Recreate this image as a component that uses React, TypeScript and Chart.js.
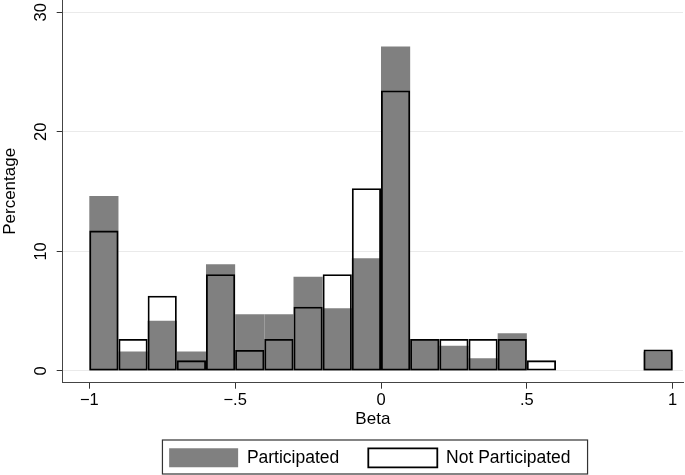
import React, { useEffect, useRef } from 'react';
import { Chart, registerables } from 'chart.js';

Chart.register(...registerables);

// Histogram bins (width 0.1) – centres of each bin on the Beta axis
const binCenters = [
  -0.95, -0.85, -0.75, -0.65, -0.55, -0.45, -0.35, -0.25, -0.15, -0.05,
  0.05, 0.15, 0.25, 0.35, 0.45, 0.55, 0.65, 0.75, 0.85, 0.95,
];

// Percentage per bin
const participated = [
  14.64, 1.62, 4.21, 1.62, 8.93, 4.74, 4.74, 7.89, 5.24, 9.43,
  27.14, 2.68, 2.12, 1.06, 3.15, null, null, null, null, 1.6,
];
const notParticipated = [
  11.74, 2.68, 6.3, 0.89, 8.09, 1.76, 2.68, 5.38, 8.09, 15.29,
  23.46, 2.68, 2.68, 2.68, 2.68, 0.89, null, null, null, 1.79,
];

const seriesNames = ['Participated', 'Not Participated'];

const xTickValues = [-1, -0.5, 0, 0.5, 1];
const xTickLabels = ['\u22121', '\u2212.5', '0', '.5', '1'];
const yTickValues = [0, 10, 20, 30];
const yTickLabels = ['0', '10', '20', '30'];

const xTitle = 'Beta';
const yTitle = 'Percentage';

const FONT = "'Liberation Sans', Arial, Helvetica, sans-serif";

export default function App() {
  const canvasRef = useRef<HTMLCanvasElement | null>(null);

  useEffect(() => {
    const canvas = canvasRef.current;
    if (!canvas) return;

    const legendBox = {
      id: 'legendBox',
      afterLayout(chart: any) {
        const lg = chart.legend;
        if (!lg || !lg.lineWidths) return;
        const p = lg.options.labels.padding;
        const lw = lg.lineWidths[0];
        const ca = chart.chartArea;
        const desiredX = (ca.left + ca.right) / 2 - 3 - (lw - p) / 2;
        const currentX = (lg.left + p + lg.right - lw) / 2;
        const dx = desiredX - currentX;
        lg.left += dx;
        lg.right += dx;
        const desiredTop = ca.bottom + 65.6 - p;
        lg.top = desiredTop;
        lg.bottom = chart.height + 20;
      },
      afterDraw(chart: any) {
        const lg = chart.legend;
        const hb = lg && lg.legendHitBoxes;
        if (!hb || !hb.length) return;
        const first = hb[0];
        const last = hb[hb.length - 1];
        const ctx = chart.ctx;
        ctx.save();
        ctx.strokeStyle = '#333333';
        ctx.lineWidth = 1.2;
        const l = first.left - 6.7;
        const r = last.left + last.width + 17;
        const t = first.top - 8.3;
        const b = first.top + first.height + 6.7;
        ctx.strokeRect(l, t, r - l, b - t);
        ctx.restore();
      },
    };

    const chart = new Chart(canvas, {
      type: 'bar',
      data: {
        datasets: [
          {
            label: seriesNames[0],
            data: binCenters.map((x, i) => ({ x, y: participated[i] })) as any,
            backgroundColor: '#808080',
            borderColor: '#808080',
            borderWidth: 0,
            inflateAmount: 0,
            grouped: false,
            barPercentage: 1,
            categoryPercentage: 1,
            order: 1,
          } as any,
          {
            label: seriesNames[1],
            data: binCenters.map((x, i) => ({ x, y: notParticipated[i] })) as any,
            backgroundColor: 'rgba(255,255,255,0)',
            borderColor: '#000000',
            borderWidth: 1.8,
            borderSkipped: false,
            inflateAmount: 0,
            grouped: false,
            barPercentage: 1,
            categoryPercentage: 1,
            order: 0,
          } as any,
        ],
      },
      options: {
        animation: false,
        responsive: false,
        devicePixelRatio: 1,
        events: [],
        layout: { padding: { top: 0, right: 2, bottom: 0, left: 0 } },
        scales: {
          x: {
            type: 'linear',
            min: -1.0912,
            max: 1.0353,
            offset: false,
            afterBuildTicks: (s: any) => {
              s.ticks = xTickValues.map((v) => ({ value: v }));
            },
            afterFit: (s: any) => {
              s.height = 47;
              s.paddingLeft = 0;
              s.paddingRight = 0;
            },
            ticks: {
              autoSkip: false,
              minRotation: 0,
              maxRotation: 0,
              padding: 1.4,
              color: '#000000',
              font: { family: FONT, size: 16.5 },
              callback: (v: any) => {
                const i = xTickValues.indexOf(Number(v));
                return i >= 0 ? xTickLabels[i] : '';
              },
            },
            grid: {
              offset: false,
              drawOnChartArea: false,
              drawTicks: true,
              tickLength: 6,
              tickColor: '#333333',
              tickWidth: 1,
            },
            border: { display: true, color: '#444444', width: 1 },
            title: {
              display: true,
              text: xTitle,
              color: '#000000',
              font: { family: FONT, size: 17 },
              padding: 0,
            },
          } as any,
          y: {
            type: 'linear',
            min: -0.98,
            max: 31.03,
            afterBuildTicks: (s: any) => {
              s.ticks = yTickValues.map((v) => ({ value: v }));
            },
            afterFit: (s: any) => {
              s.width = 62.7;
              s.paddingTop = 0;
              s.paddingBottom = 0;
            },
            ticks: {
              autoSkip: false,
              minRotation: 90,
              maxRotation: 90,
              crossAlign: 'center',
              padding: 6.5,
              color: '#000000',
              font: { family: FONT, size: 16.5 },
              callback: (v: any) => {
                const i = yTickValues.indexOf(Number(v));
                return i >= 0 ? yTickLabels[i] : '';
              },
            },
            grid: {
              color: '#eaeaea',
              lineWidth: 1,
              drawTicks: true,
              tickLength: 6,
              tickColor: '#333333',
              tickWidth: 1,
            },
            border: { display: true, color: '#444444', width: 1 },
            title: {
              display: true,
              text: yTitle,
              color: '#000000',
              font: { family: FONT, size: 17 },
              padding: 0,
            },
          } as any,
        },
        plugins: {
          legend: {
            position: 'bottom',
            maxHeight: 45.3,
            labels: {
              boxWidth: 69,
              boxHeight: 19,
              padding: 29,
              color: '#000000',
              font: { family: FONT, size: 17.5 },
              sort: (a: any, b: any) => a.datasetIndex - b.datasetIndex,
            },
          } as any,
          tooltip: { enabled: false },
        },
      },
      plugins: [legendBox],
    });

    return () => {
      chart.destroy();
    };
  }, []);

  return (
    <div style={{ position: 'absolute', left: 0, top: 0, width: 685, height: 475 }}>
      <canvas
        ref={canvasRef}
        width={685}
        height={475}
        style={{ display: 'block', width: 685, height: 475 }}
      />
    </div>
  );
}
